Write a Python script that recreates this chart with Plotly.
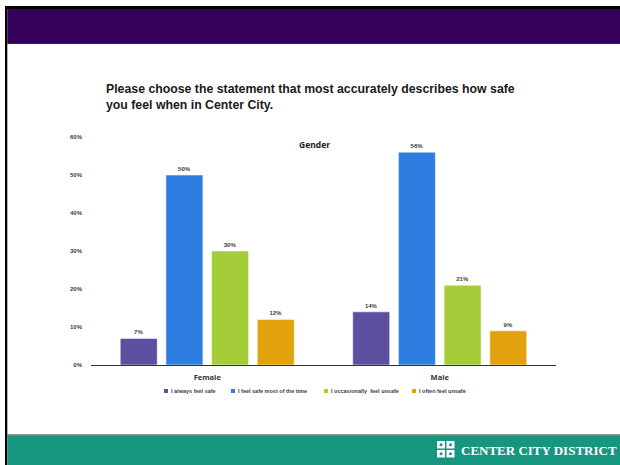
import plotly.graph_objects as go

categories = ["Female", "Male"]
series_names = ["I always feel safe", "I feel safe most of the time",
                "I occasionally  feel unsafe", "I often feel unsafe"]
series_values = [
    [0.07, 0.14],
    [0.50, 0.56],
    [0.30, 0.21],
    [0.12, 0.09],
]
series_colors = ["#5C4FA0", "#2E7DE1", "#A5CD39", "#E1A20C"]
y_ticks = [0, 0.1, 0.2, 0.3, 0.4, 0.5, 0.6]

W, H = 620, 465
L, R, T, B = 91, 556, 137, 365


def xp(x):
    return (x - L) / (R - L)


def yp(y):
    return (B - y) / (B - T)


fig = go.Figure()
for name, vals, col in zip(series_names, series_values, series_colors):
    fig.add_trace(go.Bar(
        x=categories, y=vals, name=name,
        marker=dict(color=col, line=dict(color="rgba(255,255,255,0.55)", width=1)),
        text=[f"{round(v*100)}%" for v in vals],
        textposition="outside",
        textfont=dict(size=6, color="#404040", family="Liberation Sans", weight="bold"),
        cliponaxis=False,
        showlegend=False,
    ))

shapes = []
ann = []
# frame and bands
shapes.append(dict(type="rect", xref="paper", yref="paper", layer="below",
                   x0=xp(5), x1=xp(621), y0=yp(9), y1=yp(6),
                   fillcolor="#000000", line=dict(width=0)))
shapes.append(dict(type="rect", xref="paper", yref="paper", layer="below",
                   x0=xp(5), x1=xp(7.3), y0=yp(466), y1=yp(6),
                   fillcolor="#000000", line=dict(width=0)))
shapes.append(dict(type="rect", xref="paper", yref="paper", layer="below",
                   x0=xp(7.3), x1=xp(621), y0=yp(43), y1=yp(9),
                   fillcolor="#35005A", line=dict(width=0)))
shapes.append(dict(type="rect", xref="paper", yref="paper", layer="below",
                   x0=xp(7.3), x1=xp(621), y0=yp(44), y1=yp(43),
                   fillcolor="#2A2A2A", line=dict(width=0)))
shapes.append(dict(type="rect", xref="paper", yref="paper", layer="below",
                   x0=xp(7.3), x1=xp(621), y0=yp(435.5), y1=yp(434.5),
                   fillcolor="#1E2E2A", line=dict(width=0)))
shapes.append(dict(type="rect", xref="paper", yref="paper", layer="below",
                   x0=xp(7.3), x1=xp(621), y0=yp(466), y1=yp(435.5),
                   fillcolor="#17967F", line=dict(width=0)))

# logo icon
for (ix, iy) in [(437, 441), (446.5, 441), (437, 450), (446.5, 450)]:
    shapes.append(dict(type="rect", xref="paper", yref="paper",
                       x0=xp(ix), x1=xp(ix + 8), y0=yp(iy + 7.5), y1=yp(iy),
                       fillcolor="#FFFFFF", line=dict(width=0)))
    shapes.append(dict(type="circle", xref="paper", yref="paper",
                       x0=xp(ix + 2.5), x1=xp(ix + 5.5), y0=yp(iy + 5.2), y1=yp(iy + 2.2),
                       fillcolor="#17967F", line=dict(width=0)))
ann.append(dict(xref="paper", yref="paper", x=xp(459), y=yp(450.5), xanchor="left",
                yanchor="middle", showarrow=False, text="<b>CENTER CITY DISTRICT</b>",
                font=dict(family="Liberation Serif", size=13, color="#FFFFFF")))

# title
ann.append(dict(xref="paper", yref="paper", x=xp(104), y=yp(97), xanchor="left",
                yanchor="middle", align="left", showarrow=False,
                text="<b>Please choose the statement that most accurately describes how safe<br>you feel when in Center City.</b>",
                font=dict(family="Liberation Sans", size=12.3, color="#1A1A1A")))
# subtitle
ann.append(dict(xref="paper", yref="paper", x=xp(314), y=yp(144), xanchor="center",
                yanchor="middle", showarrow=False, text="<b>Gender</b>",
                font=dict(family="Open Sans", size=8.5, color="#1A1A1A")))

# legend
legend_x = [164, 231, 324, 412]
for name, col, lx in zip(series_names, series_colors, legend_x):
    shapes.append(dict(type="rect", xref="paper", yref="paper",
                       x0=xp(lx), x1=xp(lx + 4), y0=yp(393), y1=yp(389),
                       fillcolor=col, line=dict(width=0)))
    ann.append(dict(xref="paper", yref="paper", x=xp(lx + 5), y=yp(391), xanchor="left",
                    yanchor="middle", showarrow=False, text=name,
                    font=dict(family="Liberation Sans", size=5.5, color="#404040", weight="bold")))

fig.update_layout(
    width=W, height=H,
    margin=dict(l=L, r=W - R, t=T, b=H - B, pad=0),
    paper_bgcolor="#FFFFFF", plot_bgcolor="rgba(0,0,0,0)",
    barmode="group", bargap=0.214, bargroupgap=0.19,
    shapes=shapes, annotations=ann,
    xaxis=dict(showline=True, linecolor="#1F3A36", linewidth=1, showgrid=False,
               ticks="", ticklabelstandoff=5,
               tickfont=dict(size=7.5, color="#333333", family="Open Sans", weight="bold")),
    yaxis=dict(range=[0, 0.6], tickvals=y_ticks, tickformat=".0%", showgrid=False,
               zeroline=False, showline=False, ticks="", ticklabelstandoff=8,
               tickfont=dict(size=6, color="#404040", family="Liberation Sans", weight="bold")),
    font=dict(family="Liberation Sans"),
)

fig.write_html("out.html")
